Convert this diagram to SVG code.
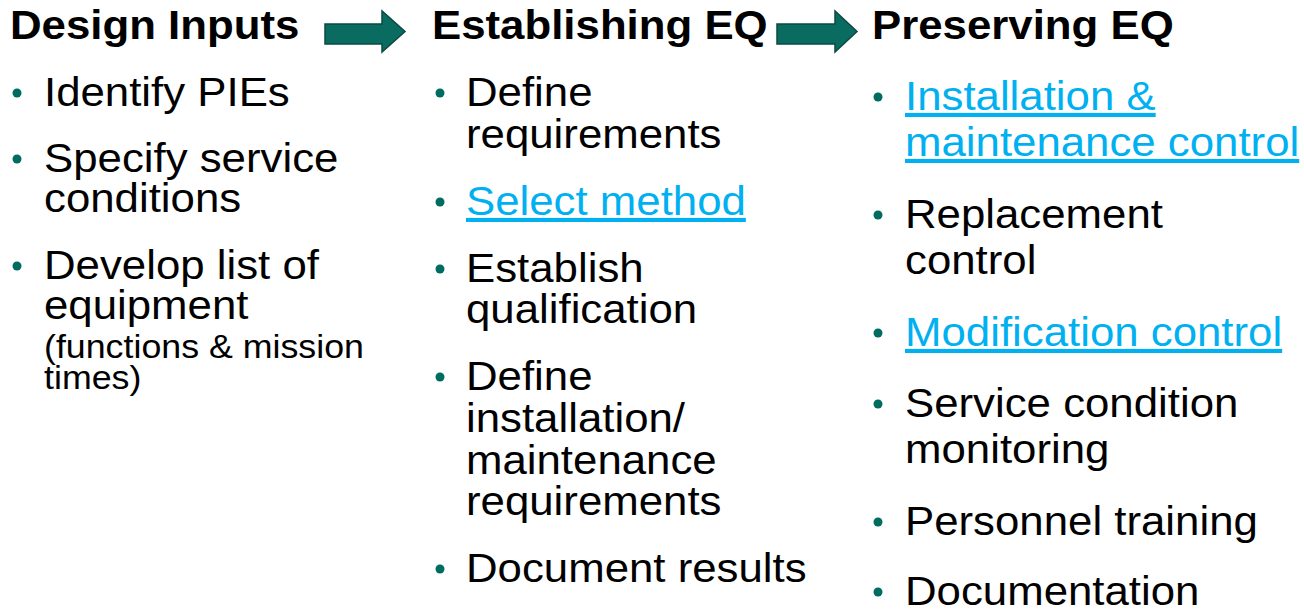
<svg xmlns="http://www.w3.org/2000/svg" width="1304" height="612" viewBox="0 0 1304 612">
<style>
text{transform-box:fill-box;transform-origin:left center;transform:scaleX(1.068)}
.h{font-family:"Liberation Sans",Arial,sans-serif;font-weight:bold;font-size:41px;fill:#000}
.t{font-family:"Liberation Sans",Arial,sans-serif;font-size:41px;fill:#000}
.s{font-family:"Liberation Sans",Arial,sans-serif;font-size:33.5px;fill:#000}
.l{fill:#00b0f0;text-decoration:underline}
.b{fill:#006b5f}
.ar{fill:#0a6b60;stroke:#0b4a43;stroke-width:1.5}
</style>
<rect width="1304" height="612" fill="#fff"/>
<g id="connectors">
<path class="ar" d="M325,24 H382 V11 L405,31.5 L382,52 V44 H325 Z"/>
<path class="ar" d="M777,24 H835 V11 L857,31.5 L835,52 V44 H777 Z"/>
</g>
<g id="design-inputs">
<text class="h" x="10" y="39">Design Inputs</text>
<circle class="b" cx="17" cy="93" r="4.5"/>
<text class="t" x="44" y="106">Identify PIEs</text>
<circle class="b" cx="17" cy="159" r="4.5"/>
<text class="t" x="44" y="172">Specify service</text>
<text class="t" x="44" y="212">conditions</text>
<circle class="b" cx="17" cy="266" r="4.5"/>
<text class="t" x="44" y="279">Develop list of</text>
<text class="t" x="44" y="319">equipment</text>
<text class="s" x="44" y="358">(functions &amp; mission</text>
<text class="s" x="44" y="389">times)</text>
</g>
<g id="establishing-eq">
<text class="h" x="432" y="39">Establishing EQ</text>
<circle class="b" cx="440" cy="93" r="4.5"/>
<text class="t" x="466" y="106">Define</text>
<text class="t" x="466" y="148">requirements</text>
<circle class="b" cx="440" cy="202" r="4.5"/>
<text class="t l" x="466" y="215">Select method</text>
<circle class="b" cx="440" cy="269" r="4.5"/>
<text class="t" x="466" y="282">Establish</text>
<text class="t" x="466" y="323">qualification</text>
<circle class="b" cx="440" cy="377" r="4.5"/>
<text class="t" x="466" y="390">Define</text>
<text class="t" x="466" y="432">installation/</text>
<text class="t" x="466" y="474">maintenance</text>
<text class="t" x="466" y="515">requirements</text>
<circle class="b" cx="440" cy="569" r="4.5"/>
<text class="t" x="466" y="582">Document results</text>
</g>
<g id="preserving-eq">
<text class="h" x="872" y="39">Preserving EQ</text>
<circle class="b" cx="878" cy="97" r="4.5"/>
<text class="t l" x="905" y="110">Installation &amp;</text>
<text class="t l" x="905" y="156">maintenance control</text>
<circle class="b" cx="878" cy="215" r="4.5"/>
<text class="t" x="905" y="228">Replacement</text>
<text class="t" x="905" y="274">control</text>
<circle class="b" cx="878" cy="333" r="4.5"/>
<text class="t l" x="905" y="346">Modification control</text>
<circle class="b" cx="878" cy="404" r="4.5"/>
<text class="t" x="905" y="417">Service condition</text>
<text class="t" x="905" y="463">monitoring</text>
<circle class="b" cx="878" cy="522" r="4.5"/>
<text class="t" x="905" y="535">Personnel training</text>
<circle class="b" cx="878" cy="592" r="4.5"/>
<text class="t" x="905" y="605">Documentation</text>
</g>
</svg>
